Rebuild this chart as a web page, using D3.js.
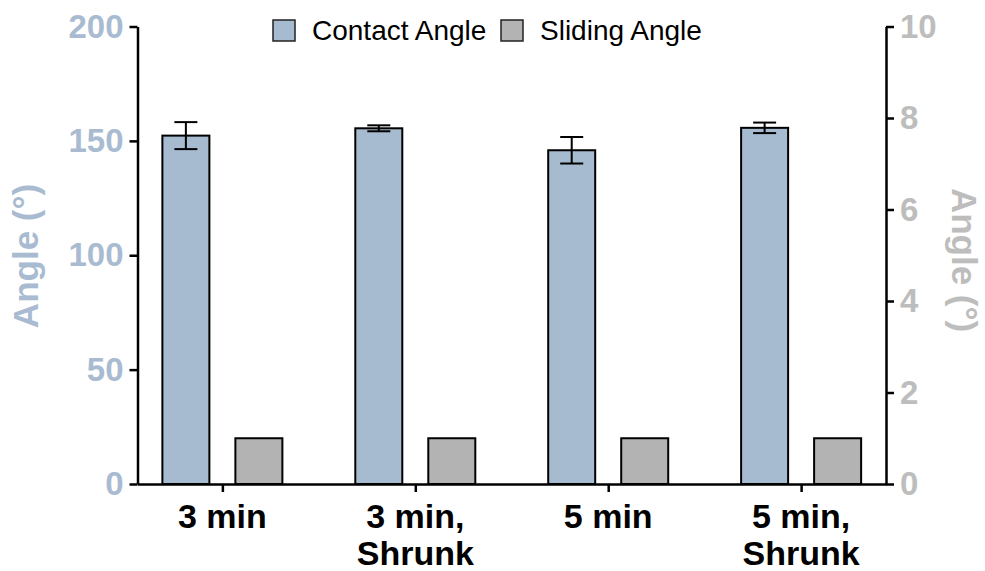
<!DOCTYPE html>
<html>
  <head>
    <style>
      body { margin: 0; background: #fff; }
      text { font-family: "Liberation Sans", Arial, sans-serif; }
      .axis path, .axis line { stroke: #000; stroke-width: 2.5; fill: none; }
      .left-axis text { fill: #a9bbd1; font-size: 33px; font-weight: bold; }
      .right-axis text { fill: #bdbdbd; font-size: 33px; font-weight: bold; }
      .cat-label { font-size: 34px; font-weight: bold; fill: #000; text-anchor: middle; }
      .legend-text { font-size: 28px; fill: #000; }
      .axis-title { font-size: 35px; font-weight: bold; text-anchor: middle; }
    </style>
  </head>
  <body>
    <div id="chart"></div>
    <script src="https://d3js.org/d3.v7.min.js"></script>
    <script>
      const categories = ["3 min", "3 min, Shrunk", "5 min", "5 min, Shrunk"];
      const categoryLines = [["3 min"], ["3 min,", "Shrunk"], ["5 min"], ["5 min,", "Shrunk"]];
      const contactAngle = [152.3, 155.5, 145.9, 155.7];
      const contactErr = [5.9, 1.3, 5.8, 2.3];
      const slidingAngle = [1.0, 1.0, 1.0, 1.0];
      const leftTicks = [0, 50, 100, 150, 200];
      const rightTicks = [0, 2, 4, 6, 8, 10];

      const W = 985, H = 571;
      const plotLeft = 137.5, plotRight = 886, plotTop = 26.5, plotBottom = 484;
      const barW = 47, offset = 36.5, capW = 23;
      const contactColor = "#a6bad0", slidingColor = "#b3b3b3";

      const svg = d3.select("#chart").append("svg")
        .attr("width", W).attr("height", H);

      const x = d3.scalePoint().domain(categories).range([plotLeft, plotRight]).padding(0.44);
      const yL = d3.scaleLinear().domain([0, 200]).range([plotBottom, plotTop]);
      const yR = d3.scaleLinear().domain([0, 10]).range([plotBottom, plotTop]);

      const data = categories.map((c, i) => ({
        cat: c, ca: contactAngle[i], err: contactErr[i], sa: slidingAngle[i], lines: categoryLines[i]
      }));

      // bars
      svg.selectAll(".ca-bar").data(data).enter().append("rect")
        .attr("x", d => x(d.cat) - offset - barW / 2)
        .attr("width", barW)
        .attr("y", d => yL(d.ca))
        .attr("height", d => yL(0) - yL(d.ca))
        .attr("fill", contactColor).attr("stroke", "#000").attr("stroke-width", 2);

      svg.selectAll(".sa-bar").data(data).enter().append("rect")
        .attr("x", d => x(d.cat) + offset - barW / 2)
        .attr("width", barW)
        .attr("y", d => yR(d.sa))
        .attr("height", d => yR(0) - yR(d.sa))
        .attr("fill", slidingColor).attr("stroke", "#000").attr("stroke-width", 2);

      // error bars
      const eb = svg.selectAll(".err").data(data).enter().append("g")
        .attr("stroke", "#000").attr("stroke-width", 2);
      eb.append("line")
        .attr("x1", d => x(d.cat) - offset).attr("x2", d => x(d.cat) - offset)
        .attr("y1", d => yL(d.ca + d.err)).attr("y2", d => yL(d.ca - d.err));
      eb.append("line")
        .attr("x1", d => x(d.cat) - offset - capW / 2).attr("x2", d => x(d.cat) - offset + capW / 2)
        .attr("y1", d => yL(d.ca + d.err)).attr("y2", d => yL(d.ca + d.err));
      eb.append("line")
        .attr("x1", d => x(d.cat) - offset - capW / 2).attr("x2", d => x(d.cat) - offset + capW / 2)
        .attr("y1", d => yL(d.ca - d.err)).attr("y2", d => yL(d.ca - d.err));

      // axes
      svg.append("g").attr("class", "axis left-axis")
        .attr("transform", "translate(" + plotLeft + ",0)")
        .call(d3.axisLeft(yL).tickValues(leftTicks).tickSize(8).tickSizeOuter(0).tickPadding(6));

      svg.append("g").attr("class", "axis right-axis")
        .attr("transform", "translate(" + plotRight + ",0)")
        .call(d3.axisRight(yR).tickValues(rightTicks).tickSize(8).tickSizeOuter(0).tickPadding(6));

      const xAxis = svg.append("g").attr("class", "axis bottom-axis")
        .attr("transform", "translate(0," + plotBottom + ")")
        .call(d3.axisBottom(x).tickSize(8).tickSizeOuter(0));
      xAxis.selectAll("text").remove();

      svg.selectAll(".cat-label").data(data).enter().append("text")
        .attr("class", "cat-label")
        .attr("x", d => x(d.cat))
        .attr("y", 528)
        .each(function (d) {
          d3.select(this).selectAll("tspan").data(d.lines).enter().append("tspan")
            .attr("x", x(d.cat))
            .attr("dy", (l, i) => i === 0 ? 0 : 37)
            .text(l => l);
        });

      // axis titles
      svg.append("text").attr("class", "axis-title")
        .attr("transform", "translate(38,256) rotate(-90)")
        .attr("fill", "#a9bbd1")
        .text("Angle (°)");

      svg.append("text").attr("class", "axis-title")
        .attr("transform", "translate(952,260) rotate(90)")
        .attr("fill", "#bdbdbd")
        .text("Angle (°)");

      // legend
      const legendItems = [
        { label: "Contact Angle", color: contactColor, bx: 273, tx: 312 },
        { label: "Sliding Angle", color: slidingColor, bx: 501, tx: 540 }
      ];
      legendItems.forEach(l => {
        svg.append("rect").attr("x", l.bx).attr("y", 20).attr("width", 22).attr("height", 21)
          .attr("fill", l.color).attr("stroke", "#222").attr("stroke-width", 1.5);
        svg.append("text").attr("class", "legend-text").attr("x", l.tx).attr("y", 40).text(l.label);
      });
    </script>
  </body>
</html>
